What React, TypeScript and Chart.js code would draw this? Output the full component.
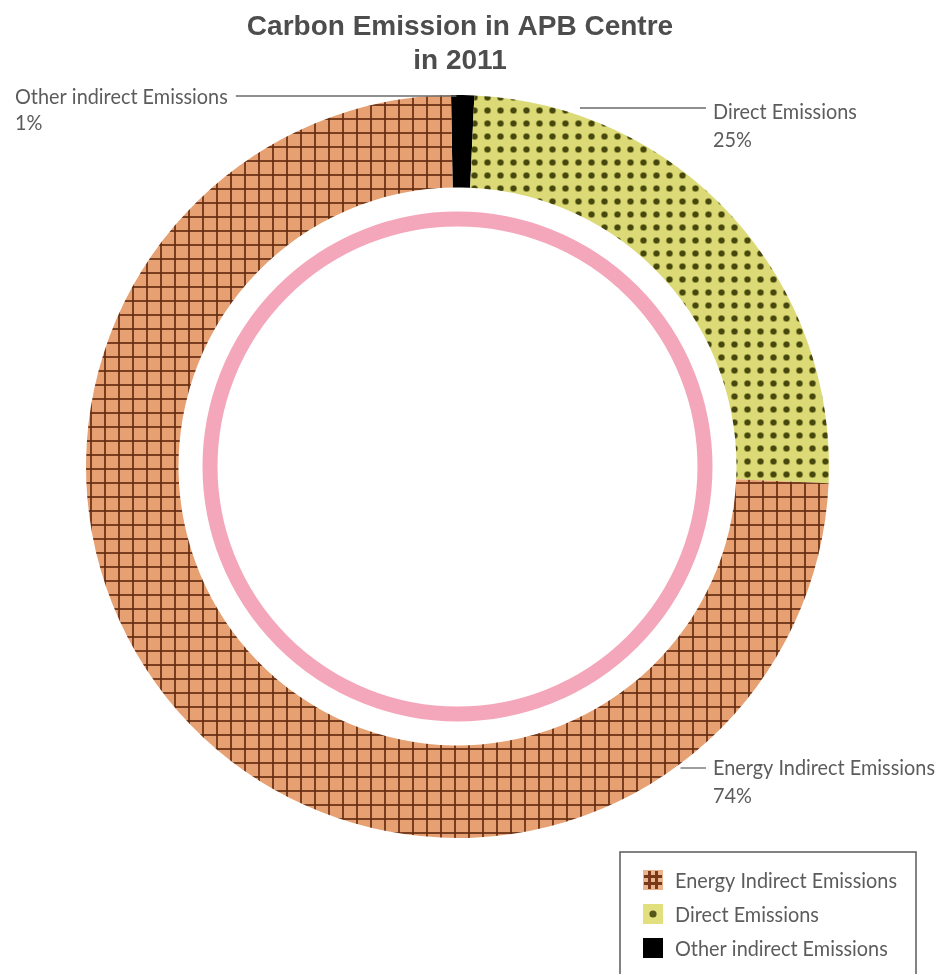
import React, { useEffect, useRef } from "react";
import { Chart, registerables } from "chart.js";

Chart.register(...registerables);

const titleLines = ["Carbon Emission in APB Centre", "in 2011"];
const categories = ["Energy Indirect Emissions", "Direct Emissions", "Other indirect Emissions"];
const values = [74, 25, 1];
const percentLabels = ["74%", "25%", "1%"];
// clockwise drawing order starting at 12 o'clock: Other, Direct, Energy
const drawOrder = [2, 1, 0];

const W = 941;
const H = 974;
const TEXT_COLOR = "#5c5c5c";
const LABEL_FONT = "22px Lato, 'DejaVu Sans', sans-serif";

function gridPattern(ctx: CanvasRenderingContext2D) {
  const c = document.createElement("canvas");
  c.width = 14;
  c.height = 14;
  const g = c.getContext("2d")!;
  g.fillStyle = "#e6a072";
  g.fillRect(0, 0, 14, 14);
  g.fillStyle = "rgba(100,45,16,0.85)";
  g.fillRect(6, 0, 2, 14);
  g.fillRect(0, 6, 14, 2);
  return ctx.createPattern(c, "repeat")!;
}

function dotPattern(ctx: CanvasRenderingContext2D) {
  const c = document.createElement("canvas");
  c.width = 13;
  c.height = 13;
  const g = c.getContext("2d")!;
  g.fillStyle = "#dcda76";
  g.fillRect(0, 0, 13, 13);
  g.fillStyle = "rgba(110,110,30,0.6)";
  g.beginPath();
  g.arc(6.5, 6.5, 3.6, 0, Math.PI * 2);
  g.fill();
  g.fillStyle = "#46470f";
  g.beginPath();
  g.arc(6.5, 6.5, 2.8, 0, Math.PI * 2);
  g.fill();
  return ctx.createPattern(c, "repeat")!;
}

function scaledText(ctx: CanvasRenderingContext2D, text: string, x: number, y: number, s: number) {
  ctx.save();
  ctx.translate(x, y);
  ctx.scale(s, 1);
  ctx.fillText(text, 0, 0);
  ctx.restore();
}

// label anchor info per category (same order as categories)
const labelTextX = [713, 713, 15];
const labelBaseY = [775, 119, 104];
const leaderY = [768, 108, 96];

const overlayPlugin = {
  id: "overlay",
  afterDatasetsDraw(chart: any) {
    const ctx: CanvasRenderingContext2D = chart.ctx;
    const meta = chart.getDatasetMeta(0);
    const arc0 = meta.data[0] as any;
    const { x: cx, y: cy, outerRadius: R, innerRadius: r0 } = arc0.getProps(
      ["x", "y", "outerRadius", "innerRadius"],
      true
    );

    // title
    ctx.save();
    ctx.fillStyle = "#4d4d4d";
    ctx.font = "bold 28px 'Liberation Sans', Arial, sans-serif";
    ctx.textAlign = "center";
    ctx.textBaseline = "alphabetic";
    ctx.fillText(titleLines[0], 460, 35);
    ctx.fillText(titleLines[1], 460, 69);
    ctx.restore();

    // pink inner ring
    ctx.save();
    ctx.beginPath();
    ctx.arc(cx, cy, r0 - 31.5, 0, Math.PI * 2);
    ctx.lineWidth = 15;
    ctx.strokeStyle = "#f4a6ba";
    ctx.stroke();
    ctx.restore();

    ctx.save();
    ctx.font = LABEL_FONT;
    ctx.textAlign = "left";
    ctx.textBaseline = "alphabetic";
    const s = 222 / ctx.measureText(categories[0]).width;

    // callout labels with leader lines
    ctx.strokeStyle = "#6a6a6a";
    ctx.lineWidth = 1.3;
    categories.forEach((name, i) => {
      const ly = leaderY[i];
      const tx = labelTextX[i];
      let x1: number;
      let x2: number;
      if (tx > cx) {
        const edge = cx + Math.sqrt(Math.max(R * R - (ly - cy) * (ly - cy), 0));
        x1 = i === 1 ? edge + 25 : edge + 6;
        x2 = tx - 7;
      } else {
        const tw = ctx.measureText(name).width * s;
        x1 = tx + tw + 8;
        x2 = cx - 1;
      }
      ctx.beginPath();
      ctx.moveTo(x1, ly);
      ctx.lineTo(x2, ly);
      ctx.stroke();
      ctx.fillStyle = TEXT_COLOR;
      scaledText(ctx, name, tx, labelBaseY[i], s);
      scaledText(ctx, percentLabels[i], tx, labelBaseY[i] + (i === 2 ? 26 : 28), s);
    });

    // legend box
    ctx.strokeStyle = "#5a5a5a";
    ctx.lineWidth = 1.5;
    ctx.strokeRect(620, 852, 296, 140);

    const rowBase = [888, 922, 956];
    categories.forEach((name, i) => {
      const cyRow = rowBase[i] - 8;
      const ix = 643;
      const iy = cyRow - 10;
      if (i === 0) {
        ctx.fillStyle = "#eab48f";
        ctx.fillRect(ix, iy, 20, 20);
        ctx.fillStyle = "#7a3a1a";
        ctx.fillRect(ix + 5, iy + 1, 3, 18);
        ctx.fillRect(ix + 12, iy + 1, 3, 18);
        ctx.fillRect(ix + 1, iy + 5, 18, 3);
        ctx.fillRect(ix + 1, iy + 12, 18, 3);
      } else if (i === 1) {
        ctx.fillStyle = "#e2e07e";
        ctx.fillRect(ix, iy, 20, 20);
        ctx.fillStyle = "#56561a";
        ctx.beginPath();
        ctx.arc(ix + 10, iy + 10, 3.6, 0, Math.PI * 2);
        ctx.fill();
      } else {
        ctx.fillStyle = "#000";
        ctx.fillRect(ix, iy, 20, 20);
      }
      ctx.fillStyle = TEXT_COLOR;
      scaledText(ctx, name, 675, rowBase[i], s);
    });
    ctx.restore();
  },
};

export default function App() {
  const ref = useRef<HTMLCanvasElement | null>(null);

  useEffect(() => {
    const canvas = ref.current!;
    const ctx = canvas.getContext("2d")!;
    const fills = [gridPattern(ctx), dotPattern(ctx), "#000000"];
    const chart = new Chart(canvas, {
      type: "doughnut",
      data: {
        labels: drawOrder.map((i) => categories[i]),
        datasets: [
          {
            data: drawOrder.map((i) => values[i]),
            backgroundColor: drawOrder.map((i) => fills[i]) as any,
            borderWidth: 0,
          },
        ],
      },
      options: {
        responsive: false,
        animation: false,
        events: [],
        rotation: -1,
        cutout: "75.1%",
        layout: { padding: { left: 85, right: 111, top: 95, bottom: 136 } },
        plugins: {
          legend: { display: false },
          title: { display: false },
          tooltip: { enabled: false },
        },
      },
      plugins: [overlayPlugin],
    });
    return () => chart.destroy();
  }, []);

  return (
    <div style={{ position: "absolute", left: 0, top: 0, width: W, height: H, background: "#fff" }}>
      <canvas ref={ref} width={W} height={H} style={{ display: "block" }} />
    </div>
  );
}
